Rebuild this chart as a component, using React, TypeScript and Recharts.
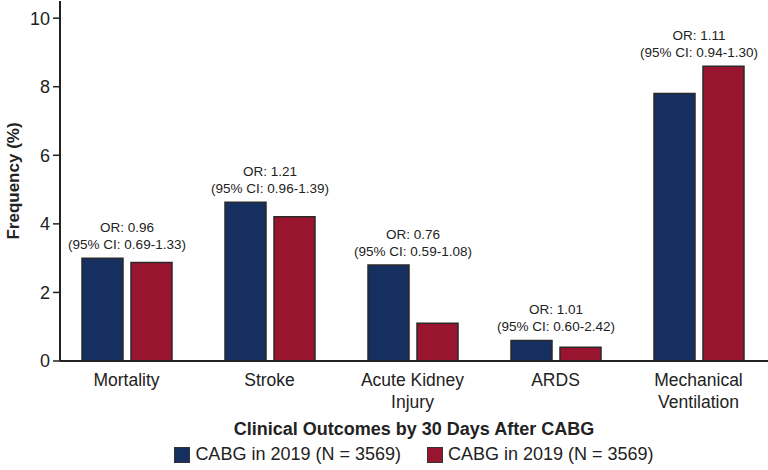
import { BarChart, Bar, XAxis, YAxis, Legend, LabelList } from "recharts";

const categories = ["Mortality", "Stroke", "Acute Kidney\nInjury", "ARDS", "Mechanical\nVentilation"];
const cabgBlue = [3.0, 4.63, 2.8, 0.6, 7.8];
const cabgRed = [2.87, 4.21, 1.1, 0.4, 8.6];
const orText = ["OR: 0.96", "OR: 1.21", "OR: 0.76", "OR: 1.01", "OR: 1.11"];
const ciText = [
  "(95% CI: 0.69-1.33)",
  "(95% CI: 0.96-1.39)",
  "(95% CI: 0.59-1.08)",
  "(95% CI: 0.60-2.42)",
  "(95% CI: 0.94-1.30)",
];
const yTicks = [0, 2, 4, 6, 8, 10];

const seriesNames = ["CABG in 2019 (N = 3569)", "CABG in 2019 (N = 3569)"];
const BLUE = "#152f61";
const RED = "#98142f";
const INK = "#222";
const FONT = "'Liberation Sans', Arial, Helvetica, sans-serif";

const data = categories.map((name, i) => ({
  name,
  blue: cabgBlue[i],
  red: cabgRed[i],
}));

const GAP = 8;

const XTick = (props: any) => {
  const { x, y, payload } = props;
  const lines = String(payload.value).split("\n");
  return (
    <g>
      {lines.map((l, i) => (
        <text
          key={i}
          x={x}
          y={y + 17 + i * 22}
          textAnchor="middle"
          fill={INK}
          fontSize={17.5}
          fontFamily={FONT}
        >
          {l}
        </text>
      ))}
    </g>
  );
};

// annotation goes above whichever bar in the group is taller
const makeLabel = (which: "blue" | "red") => (props: any) => {
  const { x, y, width, index } = props;
  const i = index;
  if (i == null) return null;
  const mine = which === "blue" ? cabgBlue[i] : cabgRed[i];
  const other = which === "blue" ? cabgRed[i] : cabgBlue[i];
  if (which === "blue" ? mine < other : mine <= other) return null;
  const cx = which === "blue" ? x + width + GAP / 2 : x - GAP / 2;
  return (
    <g>
      <text x={cx} y={y - 26} textAnchor="middle" fontSize={13.5} fill={INK} fontFamily={FONT}>
        {orText[i]}
      </text>
      <text x={cx} y={y - 9} textAnchor="middle" fontSize={13.5} fill={INK} fontFamily={FONT}>
        {ciText[i]}
      </text>
    </g>
  );
};

const LegendBox = () => (
  <div
    style={{
      display: "flex",
      justifyContent: "center",
      paddingLeft: 60,
      paddingTop: 4,
      fontFamily: FONT,
      fontSize: 18,
      color: INK,
    }}
  >
    {[BLUE, RED].map((c, i) => (
      <div key={i} style={{ display: "flex", alignItems: "center", marginRight: i === 0 ? 26 : 0 }}>
        <span
          style={{
            display: "inline-block",
            width: 14,
            height: 14,
            background: c,
            border: "1px solid #333",
            marginRight: 5,
          }}
        />
        <span>{seriesNames[i]}</span>
      </div>
    ))}
  </div>
);

export default function App() {
  return (
    <div style={{ position: "absolute", left: 0, top: 0 }}>
      <BarChart
        width={768}
        height={470}
        data={data}
        margin={{ top: 1, right: 0, bottom: 0, left: 0 }}
        barSize={41}
        barGap={GAP}
      >
        <XAxis
          dataKey="name"
          height={79}
          padding={{ left: -5, right: -2 }}
          tick={<XTick />}
          tickLine={false}
          axisLine={{ stroke: INK, strokeWidth: 2 }}
          interval={0}
          label={{
            value: "Clinical Outcomes by 30 Days After CABG",
            position: "insideBottom",
            offset: 5,
            style: { fontWeight: "bold", fontSize: 18, fill: INK, fontFamily: FONT },
          }}
        />
        <YAxis
          width={60}
          domain={[0, 10.5]}
          ticks={yTicks}
          tickSize={7}
          tickMargin={3}
          tick={{ fontSize: 18, fill: INK, fontFamily: FONT }}
          tickLine={{ stroke: INK, strokeWidth: 1.5 }}
          axisLine={{ stroke: INK, strokeWidth: 2 }}
          label={{
            value: "Frequency (%)",
            angle: -90,
            position: "insideLeft",
            offset: 13,
            style: { textAnchor: "middle", fontWeight: "bold", fontSize: 17, fill: INK, fontFamily: FONT },
          }}
        />
        <Legend verticalAlign="bottom" height={30} content={<LegendBox />} />
        <Bar dataKey="blue" name={seriesNames[0]} fill={BLUE} stroke="#2a2a2a" strokeWidth={1.5} isAnimationActive={false}>
          <LabelList dataKey="blue" content={makeLabel("blue")} />
        </Bar>
        <Bar dataKey="red" name={seriesNames[1]} fill={RED} stroke="#2a2a2a" strokeWidth={1.5} isAnimationActive={false}>
          <LabelList dataKey="red" content={makeLabel("red")} />
        </Bar>
      </BarChart>
    </div>
  );
}
